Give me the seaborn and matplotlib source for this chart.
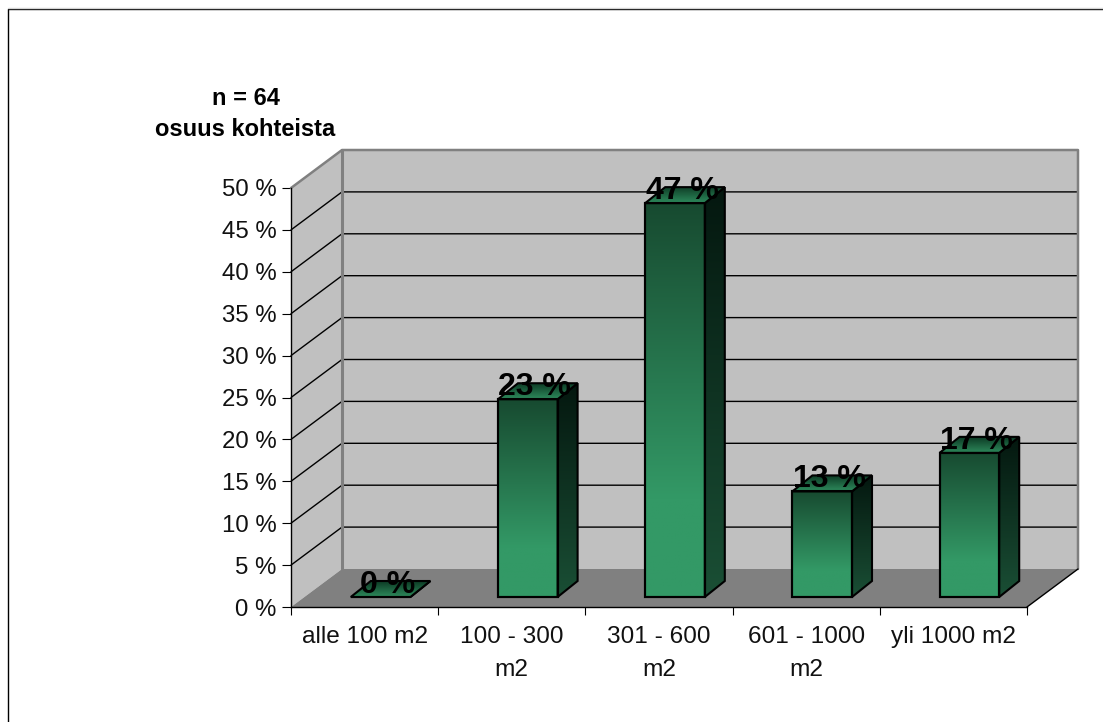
import numpy as np
import matplotlib
matplotlib.use("Agg")
import matplotlib.pyplot as plt
import seaborn as sns
from matplotlib.colors import LinearSegmentedColormap
from matplotlib.lines import Line2D
from matplotlib.patches import Polygon
from matplotlib.transforms import Affine2D, IdentityTransform

# --- Data ---
categories = ["alle 100 m2", "100 - 300\nm2", "301 - 600\nm2", "601 - 1000\nm2", "yli 1000 m2"]
shares = [0.0, 23.6, 47.0, 12.6, 17.2]
share_labels = ["0 %", "23 %", "47 %", "13 %", "17 %"]
y_ticks = [0, 5, 10, 15, 20, 25, 30, 35, 40, 45, 50]

# --- Style (pixels are display units at dpi 100) ---
W, H = 1103, 722
WALL_DX, WALL_DY = 51, 38     # depth of the chart box
BAR_DX, BAR_DY = 16, 10       # bars stand a bit inside the box
SIDE_DX, SIDE_DY = 20, 16     # depth of one bar
GRAY = "#c0c0c0"
FLOOR = "#808080"

front_cmap = LinearSegmentedColormap.from_list("front", [(0, "#174a30"), (0.75, "#339966"), (1, "#339966")])
side_cmap = LinearSegmentedColormap.from_list("side", [(0, "#04170f"), (1, "#1a4f35")])
top_cmap = LinearSegmentedColormap.from_list("top", [(0, "#0d3a24"), (1, "#2d8a5c")])

sns.set_style("white")
plt.rcParams["font.family"] = ["Liberation Sans", "DejaVu Sans"]

ID = IdentityTransform()


def shaded_face(ax, corners, cmap, zorder):
    """Fills a polygon (display coords) with a vertical gradient and a black edge."""
    xs = [c[0] for c in corners]
    ys = [c[1] for c in corners]
    if max(ys) - min(ys) < 1:
        return
    outline = Polygon(corners, closed=True, transform=ID, facecolor="none",
                      edgecolor="black", linewidth=1.5, zorder=zorder + 0.1, clip_on=False)
    ax.add_patch(outline)
    grad = np.linspace(0, 1, 256).reshape(-1, 1)
    im = ax.imshow(grad, cmap=cmap, aspect="auto", origin="upper", transform=ID,
                   extent=(min(xs), max(xs), min(ys), max(ys)), zorder=zorder)
    im.set_clip_box(None)
    im.set_clip_path(outline)


def draw_walls(ax):
    to_disp = ax.transData.transform
    x0, y0 = to_disp((-0.5, 0))
    x1, _ = to_disp((4.5, 0))
    _, y_top = to_disp((-0.5, 50))
    dx, dy = WALL_DX, WALL_DY

    ax.add_patch(Polygon([(x0 + dx, y0 + dy), (x1 + dx, y0 + dy), (x1 + dx, y_top + dy), (x0 + dx, y_top + dy)],
                         transform=ID, facecolor=GRAY, edgecolor="none", zorder=0.5, clip_on=False))
    ax.add_patch(Polygon([(x0, y0), (x0 + dx, y0 + dy), (x0 + dx, y_top + dy), (x0, y_top)],
                         transform=ID, facecolor=GRAY, edgecolor="none", zorder=0.5, clip_on=False))
    ax.add_patch(Polygon([(x0, y0), (x1, y0), (x1 + dx, y0 + dy), (x0 + dx, y0 + dy)],
                         transform=ID, facecolor=FLOOR, edgecolor="none", zorder=0.6, clip_on=False))

    # grid on back wall and side wall
    for v in y_ticks[1:-1]:
        _, yy = to_disp((-0.5, v))
        ax.add_line(Line2D([x0, x0 + dx, x1 + dx], [yy, yy + dy, yy + dy], transform=ID,
                           color="black", linewidth=1.0, zorder=0.8, clip_on=False))

    # gray box outline
    ax.add_line(Line2D([x0, x0 + dx, x1 + dx, x1 + dx], [y_top, y_top + dy, y_top + dy, y0 + dy], transform=ID,
                       color=FLOOR, linewidth=1.8, zorder=0.9, clip_on=False))
    ax.add_line(Line2D([x0 + dx, x0 + dx], [y_top + dy, y0 + dy], transform=ID,
                       color=FLOOR, linewidth=2.2, zorder=0.9, clip_on=False))
    # front edge of the floor on the right
    ax.add_line(Line2D([x1, x1 + dx], [y0, y0 + dy], transform=ID,
                       color="black", linewidth=1.0, zorder=0.9, clip_on=False))


def main():
    fig = plt.figure(figsize=(W / 100, H / 100), dpi=100, facecolor="white")
    ax = fig.add_axes([291 / W, (H - 607) / H, 736 / W, 419 / H])
    ax.patch.set_visible(False)

    sns.barplot(x=categories, y=shares, color="#339966", saturation=1, width=0.405,
                edgecolor="black", linewidth=1.5, ax=ax)
    ax.set_xlim(-0.5, 4.5)
    ax.set_ylim(0, 50)

    draw_walls(ax)

    # Move bars into the box, then add the gradient and the two other faces
    shift = Affine2D().translate(BAR_DX, BAR_DY)
    bars = list(ax.patches[:len(shares)])
    for patch, label in zip(bars, share_labels):
        patch.set_transform(ax.transData + shift)
        patch.set_facecolor("none")
        patch.set_zorder(5)
        patch.set_clip_on(False)
        box = patch.get_window_extent()
        l, r, b, t = box.x0, box.x1, box.y0, box.y1
        sx, sy = SIDE_DX, SIDE_DY
        shaded_face(ax, [(l, b), (r, b), (r, t), (l, t)], front_cmap, 3)
        shaded_face(ax, [(r, b), (r + sx, b + sy), (r + sx, t + sy), (r, t)], side_cmap, 3)
        shaded_face(ax, [(l, t), (r, t), (r + sx, t + sy), (l + sx, t + sy)], top_cmap, 4)
        ax.annotate(label, xy=((l + r) / 2 + 7, t + 4), xycoords=ID, ha="center", va="baseline",
                    fontsize=23, fontweight="bold", color="black", zorder=10, annotation_clip=False)

    ax.set_xlim(-0.5, 4.5)
    ax.set_ylim(0, 50)

    # Axes
    sns.despine(ax=ax, top=True, right=True)
    for side in ["left", "bottom"]:
        ax.spines[side].set_color("black")
        ax.spines[side].set_linewidth(1.0)
        ax.spines[side].set_zorder(2)
    ax.set_yticks(y_ticks)
    ax.set_yticklabels([f"{v} %" for v in y_ticks])
    ax.set_xticks(range(len(categories)))
    ax.set_xticklabels(categories, linespacing=1.6)
    ax.set_xticks(np.arange(-0.5, 5), minor=True)
    ax.tick_params(axis="y", left=True, length=6.5, width=0.8, pad=4, labelsize=17.3, color="black", labelcolor="#111111")
    ax.tick_params(axis="x", which="major", bottom=False, length=0, pad=14, labelsize=17.6, labelcolor="#111111")
    ax.tick_params(axis="x", which="minor", bottom=True, length=6, width=0.8, color="black")
    ax.set_xlabel("")
    ax.set_ylabel("")

    # Heading left of the chart
    fig.text(245.5 / W, (H - 105) / H, "n = 64", ha="center", va="baseline", fontsize=17, fontweight="bold", color="black")
    fig.text(245.5 / W, (H - 136) / H, "osuus kohteista", ha="center", va="baseline", fontsize=17, fontweight="bold", color="black")

    # Frame, open to the right and bottom
    fig.add_artist(Line2D([8, 8, W], [0, H - 9, H - 9], transform=ID, color="black", linewidth=1.0))
    fig.add_artist(Line2D([8, W], [H - 8, H - 8], transform=ID, color="#d4d4d4", linewidth=1.0))

    fig.savefig("out.png", dpi=100)
    plt.close(fig)


if __name__ == "__main__":
    main()
